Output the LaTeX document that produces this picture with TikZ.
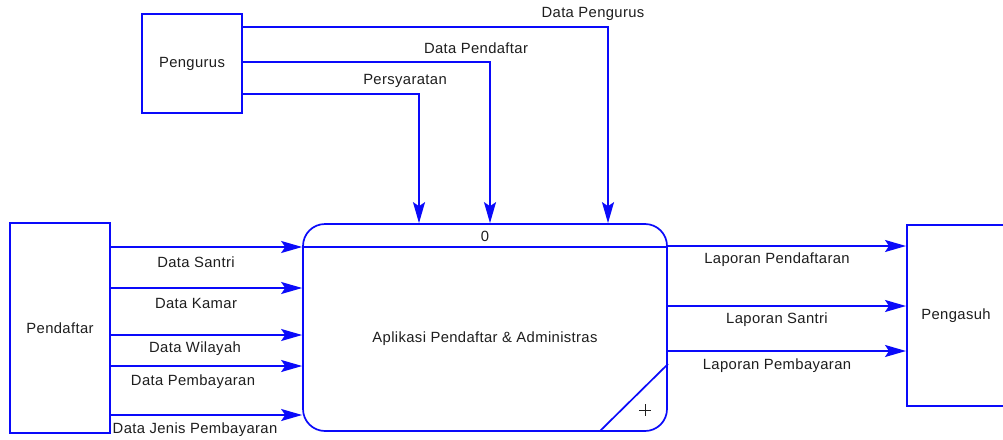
\documentclass[tikz,border=0pt]{standalone}
\usepackage{fontspec}
\setmainfont{Liberation Sans}[LetterSpace=2.5]
\usetikzlibrary{arrows.meta,calc}
\definecolor{dfdblue}{RGB}{10,10,250}
\definecolor{txt}{RGB}{30,30,30}
\tikzset{
  entity/.style={draw=dfdblue, line width=1.7pt, fill=white, inner sep=0pt, text=txt},
  procbox/.style={draw=dfdblue, line width=1.7pt, rounded corners=22pt, inner sep=0pt, text=txt},
  flow/.style={draw=dfdblue, line width=1.7pt, -{Stealth[length=21pt,width=12pt,inset=4pt]}},
  lbl/.style={text=txt, inner sep=0pt},
}
\begin{document}
\begin{tikzpicture}[x=1pt,y=-1pt, font=\fontsize{14.8}{17}\selectfont]
\useasboundingbox (0,0) rectangle (1003,439);
\fill[white] (0,0) rectangle (1003,439);
% entities
\node[entity, minimum width=100pt, minimum height=99pt] (pengurus) at (192,63.5) {Pengurus};
\node[entity, minimum width=100pt, minimum height=210pt] (pendaftar) at (60,328) {Pendaftar};
\node[entity, minimum width=100pt, minimum height=181pt, anchor=north west] (pengasuh) at (906,224) {};
\node[lbl] (pengasuhtext) at (956,316) {Pengasuh};
% process
\node[procbox, minimum width=364pt, minimum height=207pt] (proc) at (485,327.5) {};
\coordinate (hl) at (303,247);
\coordinate (hr) at (667,247);
\draw[draw=dfdblue, line width=1.7pt] (hl) -- (hr);
\node[lbl] (pid) at (485,236) {0};
\node[lbl] (pname) at (485,339) {Aplikasi Pendaftar \& Administras};
\coordinate (d1) at (668,364);
\coordinate (d2) at (600,431);
\draw[draw=dfdblue, line width=1.7pt] (d1) -- (d2);
\coordinate (plus) at (645,410);
\draw[txt, line width=0.9pt] ($(plus)+(-6,0)$) -- ($(plus)+(6,0)$) ($(plus)+(0,-6)$) -- ($(plus)+(0,6)$);
% Pengurus flows
\draw[flow] (pengurus.east |- 0,27) -| (proc.north -| 608,0);
\draw[flow] (pengurus.east |- 0,62) -| (proc.north -| 490,0);
\draw[flow] (pengurus.east |- 0,94) -| (proc.north -| 419,0);
\node[lbl] (l1) at (593,14) {Data Pengurus};
\node[lbl] (l2) at (476,48) {Data Pendaftar};
\node[lbl] (l3) at (405,81) {Persyaratan};
% Pendaftar flows
\draw[flow] (pendaftar.east |- 0,247) -- (proc.west |- 0,247);
\draw[flow] (pendaftar.east |- 0,288) -- (proc.west |- 0,288);
\draw[flow] (pendaftar.east |- 0,335) -- (proc.west |- 0,335);
\draw[flow] (pendaftar.east |- 0,366) -- (proc.west |- 0,366);
\draw[flow] (pendaftar.east |- 0,415) -- (proc.west |- 0,415);
\node[lbl] (l4) at (196,262) {Data Santri};
\node[lbl] (l5) at (196,303) {Data Kamar};
\node[lbl] (l6) at (195,349) {Data Wilayah};
\node[lbl] (l7) at (193,382) {Data Pembayaran};
\node[lbl] (l8) at (195,430) {Data Jenis Pembayaran};
% Pengasuh flows
\draw[flow] (proc.east |- 0,246) -- (pengasuh.west |- 0,246);
\draw[flow] (proc.east |- 0,306) -- (pengasuh.west |- 0,306);
\draw[flow] (proc.east |- 0,351) -- (pengasuh.west |- 0,351);
\node[lbl] (l9) at (777,260) {Laporan Pendaftaran};
\node[lbl] (l10) at (777,320) {Laporan Santri};
\node[lbl] (l11) at (777,366) {Laporan Pembayaran};
\end{tikzpicture}
\end{document}
